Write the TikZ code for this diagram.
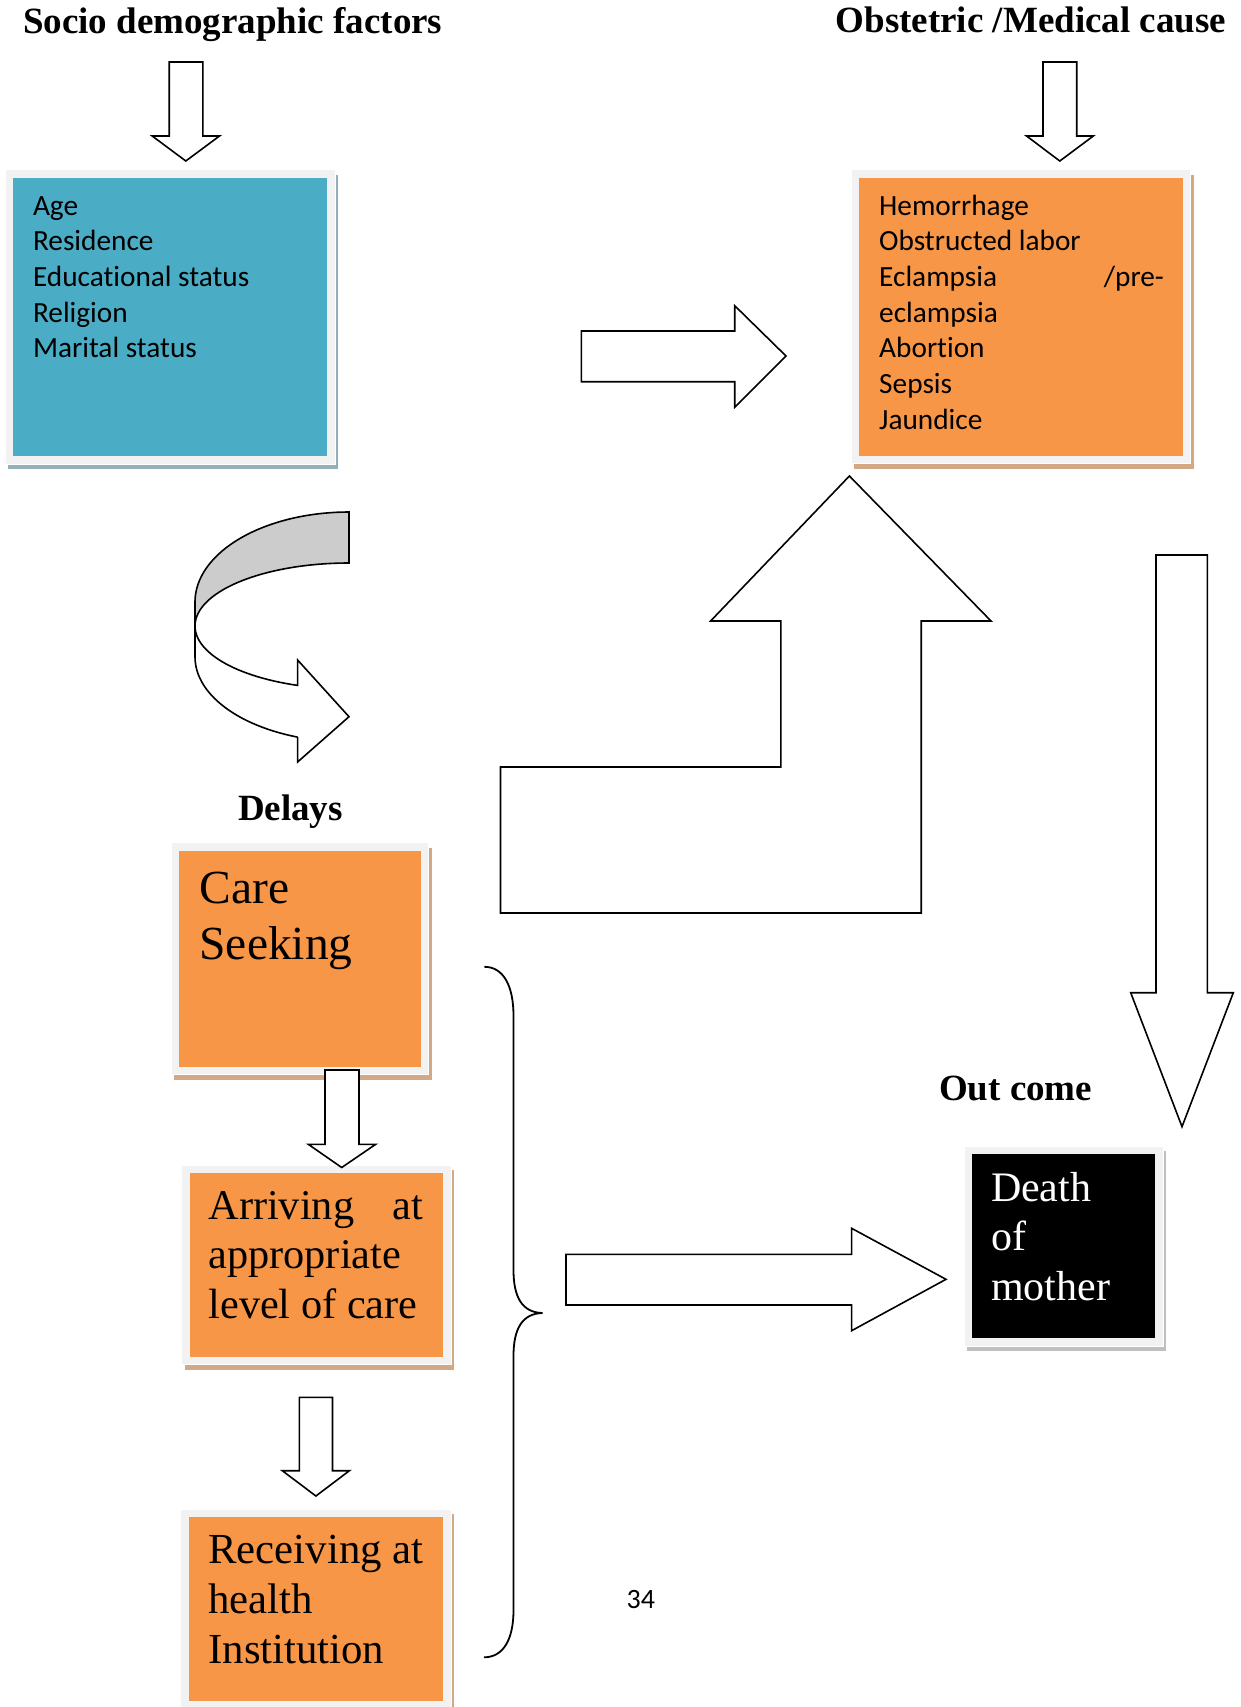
\documentclass[tikz,border=0pt]{standalone}
\usepackage{fontspec}
\setmainfont{Liberation Serif}
\newfontfamily\calibri[Ligatures=NoCommon]{Carlito}
\usetikzlibrary{calc}
\definecolor{boxblue}{HTML}{4BACC6}
\definecolor{boxorange}{HTML}{F79646}
\definecolor{framegray}{HTML}{F2F2F2}
\definecolor{shadowblue}{HTML}{93AFB9}
\definecolor{shadowtan}{HTML}{D3A885}
\definecolor{shadowgray}{HTML}{BFBFBF}
\definecolor{bandgray}{HTML}{CCCCCC}
\tikzset{
  blockarrow/.style={draw=black, fill=white, line width=1.6pt, line join=miter},
  bracestyle/.style={draw=black, line width=1.8pt},
  titletext/.style={font=\bfseries\fontsize{37}{44}\selectfont, anchor=base west, inner sep=0pt},
  listtext/.style={font=\calibri\fontsize{29.3}{35.7}\selectfont, anchor=base west, inner sep=0pt},
  bigtext/.style={anchor=base west, inner sep=0pt},
}
% #1 name, #2 x1, #3 y1, #4 x2, #5 y2 (frame), #6 fill, #7 shadow
\newcommand\drawframedbox[7]{%
  \fill[#7] (#2+3,#3+5) rectangle (#4+3,#5+5);
  \filldraw[fill=framegray, draw=white, line width=1pt] (#2,#3) rectangle (#4,#5);
  \path[fill=#6] (#2+8,#3+8) rectangle (#4-8,#5-8);
  \coordinate (#1) at ({(#2+#4)/2},{(#3+#5)/2});
}
\begin{document}
\begin{tikzpicture}[x=1pt,y=-1pt]
\useasboundingbox (0,0) rectangle (1240,1707);
\fill[white] (0,0) rectangle (1240,1707);

% titles
\node[titletext] (sdtitle) at (22.9,34) {Socio demographic factors};
\node[titletext] (medtitle) at (835.5,33) {Obstetric /Medical cause};
\node[titletext] (delays) at (237.8,820.5) {Delays};
\node[titletext] (outcome) at (938.9,1100) {Out come};

% boxes
\drawframedbox{sdbox}{5}{170}{335.3}{464}{boxblue}{shadowblue}
\drawframedbox{medbox}{851.3}{170}{1190.6}{463.5}{boxorange}{shadowtan}
\drawframedbox{carebox}{171}{842.5}{428.5}{1074.5}{boxorange}{shadowtan}
\drawframedbox{arrbox}{181.7}{1165}{451}{1364.6}{boxorange}{shadowtan}
\drawframedbox{recbox}{180.6}{1509}{451.2}{1709}{boxorange}{shadowtan}
\drawframedbox{deathbox}{964}{1146}{1163}{1346}{black}{shadowgray}

% box texts
\node[listtext] (sdtext) at (32.8,215) {\parbox[t]{280pt}{Age\\Residence\\Educational status\\Religion\\Marital status}};
\node[listtext] (medtext) at (879,215) {\parbox[t]{284.7pt}{Hemorrhage\\Obstructed labor\\Eclampsia\hfill/pre-\\eclampsia\\Abortion\\Sepsis\\Jaundice}};
\node[bigtext, font=\fontsize{47.5}{56}\selectfont] (caretext) at (199.3,903.2) {\parbox[t]{215pt}{Care\\Seeking}};
\node[bigtext, font=\fontsize{42.3}{49.3}\selectfont] (arrtext) at (208.3,1219.5) {\parbox[t]{215pt}{Arriving\hfill at\\appropriate\\level of care}};
\node[bigtext, font=\fontsize{42.8}{50.3}\selectfont] (rectext) at (208.2,1563.3) {\parbox[t]{230pt}{Receiving at\\health\\Institution}};
\node[bigtext, font=\fontsize{42}{49.2}\selectfont, text=white] (deathtext) at (990.8,1201.7) {\parbox[t]{160pt}{Death\\of\\mother}};

% page number
\node[anchor=base west, inner sep=0pt, font=\calibri\fontsize{28}{34}\selectfont] (pagenum) at (626.5,1608.3) {34};

% block arrows: down arrows under titles
\draw[blockarrow] (169.2,62) -- (202.8,62) -- (202.8,136) -- (219.5,136) -- (185.8,161) -- (152.2,136) -- (169.2,136) -- cycle;
\draw[blockarrow] (1043,62) -- (1076.7,62) -- (1076.7,136) -- (1093.3,136) -- (1059.8,161) -- (1026.5,136) -- (1043,136) -- cycle;

% right arrow between top boxes
\draw[blockarrow] (581.4,331) -- (734.7,331) -- (734.7,305.7) -- (786,356) -- (734.7,407.3) -- (734.7,381.7) -- (581.4,381.7) -- cycle;

% curved arrow (back face)
\filldraw[blockarrow, fill=bandgray] (349,512)
  -- plot[domain=0:90, samples=40] ({349+154*cos(270-\x)},{602+90*sin(270-\x)})
  -- (195,626)
  -- plot[domain=0:90, samples=40] ({349+154*cos(180+\x)},{626+63*sin(180+\x)})
  -- cycle;
% curved arrow (front face)
\filldraw[blockarrow] (195,626)
  -- plot[domain=0:70.5, samples=30] ({349+154*cos(180-\x)},{626+63*sin(180-\x)})
  -- (297.6,660) -- (349,716.7) -- (297.6,762) -- (297.6,737.1)
  -- plot[domain=0:70.5, samples=30] ({349+154*cos(109.5+\x)},{657+85*sin(109.5+\x)})
  -- cycle;

% L-shaped up arrow
\draw[blockarrow] (849.4,476) -- (991,621) -- (921.2,621) -- (921.2,913) -- (500.5,913) -- (500.5,767) -- (780.8,767) -- (780.8,621) -- (710.6,621) -- cycle;

% big down arrow on the right
\draw[blockarrow] (1156,555) -- (1207.3,555) -- (1207.3,992.7) -- (1233.3,992.7) -- (1182,1126.7) -- (1130.7,992.7) -- (1156,992.7) -- cycle;

% down arrows between delay boxes
\draw[blockarrow] (325,1070) -- (359,1070) -- (359,1144.3) -- (375.7,1144.3) -- (341.7,1167.5) -- (308.3,1144.3) -- (325,1144.3) -- cycle;
\draw[blockarrow] (299.3,1397.3) -- (332.5,1397.3) -- (332.5,1470.7) -- (349.4,1470.7) -- (315.9,1496) -- (282.3,1470.7) -- (299.3,1470.7) -- cycle;

% right arrow to outcome
\draw[blockarrow] (566,1254.3) -- (851.6,1254.3) -- (851.6,1228.3) -- (946,1279.3) -- (851.6,1330.7) -- (851.6,1305) -- (566,1305) -- cycle;

% brace
\draw[bracestyle] (484.3,966.8) .. controls (503,966.8) and (513.5,985) .. (513.5,1016)
  -- (513.5,1270) .. controls (513.5,1297) and (522,1312.5) .. (542.5,1313)
  .. controls (522,1313.5) and (513.5,1329) .. (513.5,1356)
  -- (513.5,1610) .. controls (513.5,1640) and (503,1657.3) .. (484,1657.3);
\end{tikzpicture}
\end{document}
